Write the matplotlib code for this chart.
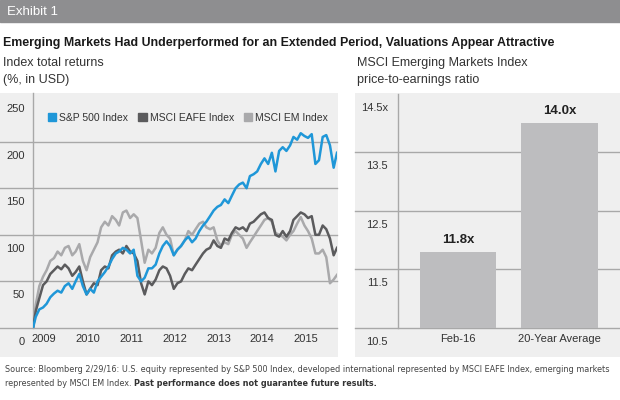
import matplotlib
matplotlib.use("Agg")
import matplotlib.pyplot as plt
from matplotlib.patches import Rectangle, Patch
from matplotlib import font_manager
import pandas as pd

# ---- data ----
dates = list(pd.date_range("2009-03-01", "2016-02-01", freq="MS")) + [pd.Timestamp("2016-02-29")]
dates[0] = pd.Timestamp("2009-03-09")

sp500 = [0, 12, 20, 22, 26, 33, 37, 40, 38, 45,
         48, 42, 50, 58, 45, 36, 42, 38, 50, 55, 60, 66,
         74, 80, 82, 86, 84, 80, 84, 56, 50, 54, 64, 64,
         68, 80, 88, 93, 88, 78, 84, 88, 94, 98, 92, 96,
         104, 110, 114, 120, 126, 130, 132, 138, 134, 142, 150, 154,
         156, 150, 163, 165, 168, 176, 182, 176, 188, 168, 190, 194,
         190, 196, 205, 202, 209, 206, 204, 208, 176, 180, 205, 207,
         196, 172, 188]
eafe = [0, 18, 32, 46, 50, 58, 62, 66, 63, 68,
        64, 56, 60, 66, 50, 36, 42, 48, 46, 62, 66, 64,
        78, 82, 84, 80, 88, 82, 80, 72, 48, 36, 50, 46,
        52, 62, 66, 64, 56, 42, 48, 50, 58, 64, 62, 68,
        74, 80, 84, 86, 94, 88, 86, 96, 94, 102, 108, 106,
        108, 104, 112, 114, 118, 122, 124, 118, 116, 100, 98, 104,
        98, 104, 116, 120, 124, 122, 118, 120, 100, 100, 110, 106,
        96, 78, 86]
em = [0, 25, 45, 55, 62, 72, 75, 82, 78, 86,
      88, 78, 82, 90, 72, 62, 76, 84, 92, 108, 114, 110,
      120, 116, 110, 124, 126, 118, 122, 118, 94, 70, 84, 80,
      86, 102, 108, 100, 96, 78, 84, 88, 94, 104, 100, 106,
      112, 114, 108, 106, 108, 94, 88, 92, 90, 100, 104, 100,
      96, 86, 92, 98, 104, 110, 116, 118, 114, 102, 100, 98,
      94, 100, 104, 112, 119, 110, 104, 96, 80, 80, 84, 76,
      48, 52, 57]

years = [2009, 2010, 2011, 2012, 2013, 2014, 2015]
left_ticks = [0, 50, 100, 150, 200, 250]

pe_labels = ["Feb-16", "20-Year Average"]
pe_values = [11.8, 14.0]
pe_ticks = [10.5, 11.5, 12.5, 13.5, 14.5]
pe_ticklabels = ["10.5", "11.5", "12.5", "13.5", "14.5x"]

BLUE = "#1f97d8"
DARK = "#5b5b5d"
LIGHT = "#a9a9ab"
PANEL = "#efefef"
GRID = "#a8a8a8"
TXT = "#333333"

plt.rcParams["font.family"] = ["Liberation Sans", "DejaVu Sans"]

W, H = 620, 400
fig = plt.figure(figsize=(6.2, 4.0), dpi=100)


def box(x0, y0, x1, y1):
    # pixel box (from top-left) -> figure fraction rect
    return [x0 / W, 1 - y1 / H, (x1 - x0) / W, (y1 - y0) / H]


def panel(b):
    p = fig.add_axes(b, zorder=-5)
    p.set_facecolor(PANEL)
    p.set_xticks([])
    p.set_yticks([])
    for s in p.spines.values():
        s.set_visible(False)
    return p


# header bar
fig.patches.append(Rectangle((0, 1 - 22 / H), 1, 22 / H, transform=fig.transFigure,
                             color="#8e8e90", zorder=0))
fig.text(7 / W, 1 - 12 / H, "Exhibit 1", color="white", fontsize=9.5, va="center")
fig.text(3 / W, 1 - 43 / H,
         "Emerging Markets Had Underperformed for an Extended Period, Valuations Appear Attractive",
         fontsize=8.9, fontweight="bold", color="#1a1a1a", va="center")
fig.text(3 / W, 1 - 63 / H, "Index total returns", fontsize=9, color=TXT, va="center")
fig.text(3 / W, 1 - 80 / H, "(%, in USD)", fontsize=9, color=TXT, va="center")
fig.text(357 / W, 1 - 63 / H, "MSCI Emerging Markets Index", fontsize=9, color=TXT, va="center")
fig.text(357 / W, 1 - 80 / H, "price-to-earnings ratio", fontsize=9, color=TXT, va="center")

panel(box(0, 93, 338, 357))
panel(box(355, 93, 620, 357))

# ---- left: index total returns ----
ax = fig.add_axes(box(33, 95, 337, 328))
ax.patch.set_alpha(0)
ax.plot(dates, em, color=LIGHT, lw=1.8, zorder=3)
ax.plot(dates, eafe, color=DARK, lw=1.8, zorder=4)
ax.plot(dates, sp500, color=BLUE, lw=1.8, zorder=5)
ax.set_ylim(0, 250)
ax.set_xlim(pd.Timestamp("2009-03-09"), pd.Timestamp("2016-02-29"))
for v in left_ticks[:-1]:
    ax.axhline(v, xmin=-33 / 304, xmax=1, color=GRID, lw=1.0, clip_on=False, zorder=1)
for v in left_ticks:
    ax.annotate(str(v), xy=(0, v), xycoords=("axes fraction", "data"),
                xytext=(-8, -14), textcoords="offset pixels",
                ha="right", va="center", fontsize=8, color=TXT)
ax.set_yticks([])
ax.set_xticks([pd.Timestamp(f"{y}-06-10") for y in years])
ax.set_xticklabels([str(y) for y in years])
ax.tick_params(axis="x", length=0, pad=4.5, labelsize=8, labelcolor=TXT)
for s in ("top", "right", "bottom"):
    ax.spines[s].set_visible(False)
ax.spines["left"].set_color(GRID)
ax.spines["left"].set_linewidth(1.0)
ax.spines["left"].set_bounds(0, 252)

handles = [Patch(color=BLUE, label="S&P 500 Index"),
           Patch(color=DARK, label="MSCI EAFE Index"),
           Patch(color=LIGHT, label="MSCI EM Index")]
ax.legend(handles=handles, ncol=3, loc="center left", bbox_to_anchor=(15 / 304, 1 - 23 / 233),
          frameon=False, fontsize=7.5, handlelength=0.8, handleheight=0.8,
          handletextpad=0.3, columnspacing=0.95, borderaxespad=0, borderpad=0,
          labelcolor=TXT)

# ---- right: P/E bars ----
bx = fig.add_axes(box(398, 93.6, 620, 328))
bx.patch.set_alpha(0)
bx.bar([0, 1], [v - 10.5 for v in pe_values], bottom=10.5, width=0.75,
       color="#bdbdbf", zorder=3)
bx.set_ylim(10.5, 14.5)
bx.set_xlim(-0.591, 1.596)
for v in pe_ticks[:-1]:
    bx.axhline(v, xmin=-43 / 222, xmax=1, color=GRID, lw=1.0, clip_on=False, zorder=1)
for v, lab in zip(pe_ticks, pe_ticklabels):
    bx.annotate(lab, xy=(0, v), xycoords=("axes fraction", "data"),
                xytext=(-10, -14), textcoords="offset pixels",
                ha="right", va="center", fontsize=8, color=TXT)
for i, v in enumerate(pe_values):
    bx.annotate(f"{v:.1f}x", xy=(i, v), xytext=(0, 12), textcoords="offset pixels",
                ha="center", va="center", fontsize=9.5, fontweight="bold", color="#222222")
bx.set_yticks([])
bx.set_xticks([0, 1])
bx.set_xticklabels(pe_labels)
bx.tick_params(axis="x", length=0, pad=4.5, labelsize=8, labelcolor=TXT)
for s in ("top", "right", "bottom"):
    bx.spines[s].set_visible(False)
bx.spines["left"].set_color(GRID)
bx.spines["left"].set_linewidth(1.0)

# ---- footnote (condensed face if one is installed) ----
cond = font_manager.FontProperties(family="DejaVu Sans", stretch="condensed")
if "Condensed" in font_manager.findfont(cond, fallback_to_default=False):
    fn = dict(family="DejaVu Sans", stretch="condensed", fontsize=6.45)
else:
    fn = dict(family="Liberation Sans", fontsize=6.4)
fig.text(5 / W, 1 - 369 / H,
         "Source: Bloomberg 2/29/16: U.S. equity represented by S&P 500 Index, developed international "
         "represented by MSCI EAFE Index, emerging markets",
         color="#444444", va="center", **fn)
t2 = fig.text(5 / W, 1 - 384 / H, "represented by MSCI EM Index. ",
              color="#444444", va="center", **fn)
r = fig.canvas.get_renderer()
ext = t2.get_window_extent(renderer=r)
fig.text(ext.x1 / W, 1 - 384 / H, "Past performance does not guarantee future results.",
         fontweight="bold", color="#333333", va="center", **fn)

fig.savefig("out.png", dpi=100)
